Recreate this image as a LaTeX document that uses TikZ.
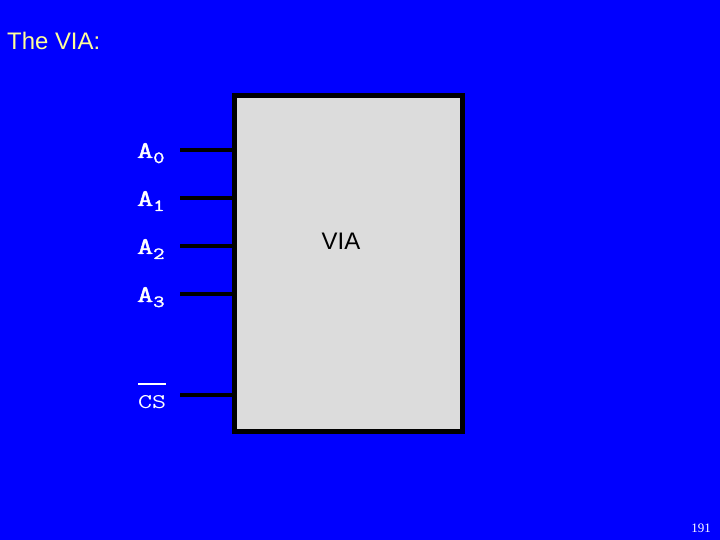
\documentclass[tikz,border=0pt]{standalone}
\usepackage{fontspec}
\setmainfont{Liberation Sans}
\newfontfamily\pinfont[FakeBold=2,FakeStretch=1.3]{Latin Modern Mono}
\newfontfamily\barfont[FakeStretch=1.3]{Latin Modern Mono}
\newfontfamily\pagefont{Liberation Serif}
\usetikzlibrary{positioning}
\definecolor{slideblue}{HTML}{0000FF}
\definecolor{titleyellow}{HTML}{FFFF99}
\definecolor{chipgray}{HTML}{DCDCDC}
\newcommand{\pinsub}[1]{\raisebox{-5bp}{\fontsize{17}{17}\selectfont #1}}
\newcommand{\pinbar}[1]{\vbox{\hrule height 1.6bp\kern 10bp\hbox{#1}}}
\tikzset{
  chipbox/.style={draw=black,fill=chipgray,line width=5bp,
                  minimum width=227.5bp,minimum height=335bp,inner sep=0pt},
  pinline/.style={draw=black,line width=3.5bp},
  pinlabel/.style={text=white,anchor=base west,inner sep=0pt,
                   font=\pinfont\fontsize{24}{26}\selectfont},
  barlabel/.style={text=white,anchor=base west,inner sep=0pt,
                   font=\barfont\fontsize{21}{24}\selectfont},
  slidetitle/.style={text=titleyellow,anchor=base west,inner sep=0pt,
                     font=\fontsize{24}{28}\selectfont},
  pagenum/.style={text=white,anchor=base east,inner sep=0pt,
                  font=\pagefont\fontsize{13}{15}\selectfont}
}
\begin{document}
\begin{tikzpicture}[x=1bp,y=-1bp]
  \fill[slideblue] (0,0) rectangle (720,540);
  \useasboundingbox (0,0) rectangle (720,540);
  \node[slidetitle] (title) at (7,50) {The VIA:};

  \node[chipbox] (chip) at (348.25,263.5) {};
  \node[anchor=base,inner sep=0pt,font=\fontsize{24}{28}\selectfont] (chipname) at (341,250) {VIA};

  \foreach \n/\y in {0/150,1/198,2/246,3/294} {
    \coordinate (pinA\n) at (180,\y);
    \draw[pinline] (pinA\n) -- (chip.west |- pinA\n);
    \node[pinlabel] (labA\n) at (137,\y+8) {A\pinsub{\n}};
  }
  \coordinate (pinCS) at (180,395);
  \draw[pinline] (pinCS) -- (chip.west |- pinCS);
  \node[barlabel] (labCS) at (138,408) {\pinbar{CS}};

  \node[pagenum] (page) at (711,532) {191};
\end{tikzpicture}
\end{document}
